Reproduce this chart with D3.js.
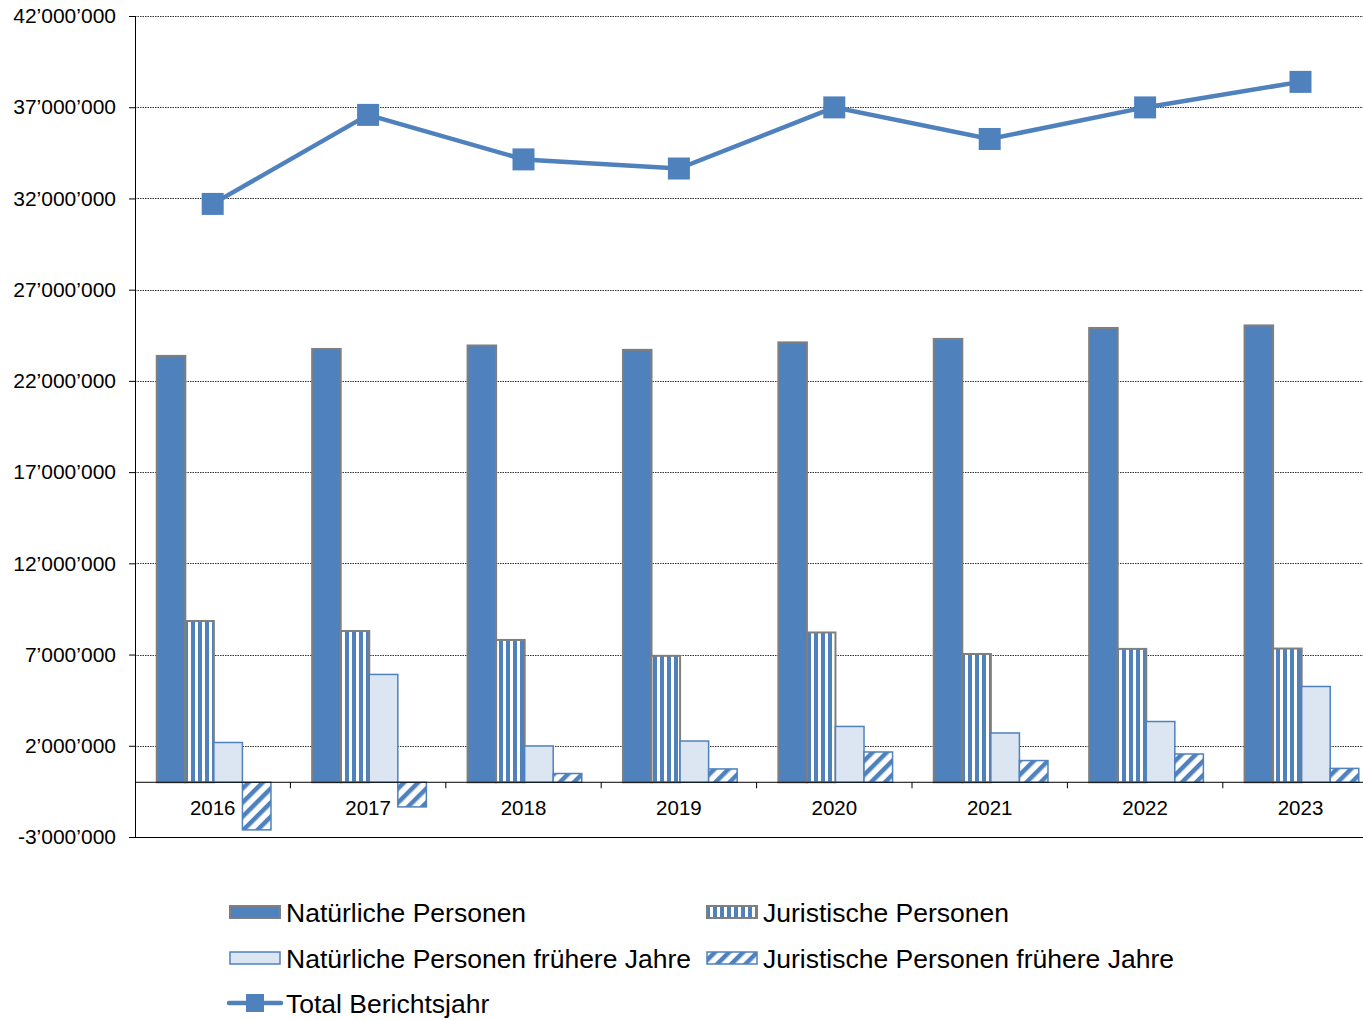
<!DOCTYPE html>
<html>
<head>
<meta charset="utf-8">
<script src="https://cdn.jsdelivr.net/npm/d3@7"></script>
<style>
  body { margin: 0; background: #fff; }
  text { font-family: "Liberation Sans", Arial, sans-serif; fill: #000; }
</style>
</head>
<body>
<div id="chart"></div>
<script>
// Data
const years = ["2016", "2017", "2018", "2019", "2020", "2021", "2022", "2023"];
const natuerliche = [23370000, 23750000, 23940000, 23700000, 24110000, 24300000, 24900000, 25040000];
const juristische = [8840000, 8290000, 7800000, 6930000, 8210000, 7030000, 7310000, 7330000];
const natFrueher = [2180000, 5910000, 1990000, 2260000, 3060000, 2700000, 3330000, 5250000];
const jurFrueher = [-2610000, -1350000, 480000, 730000, 1660000, 1190000, 1550000, 760000];
const total = [31700000, 36580000, 34140000, 33640000, 36990000, 35260000, 36990000, 38390000];
const yTicks = [-3000000, 2000000, 7000000, 12000000, 17000000, 22000000, 27000000, 32000000, 37000000, 42000000];

const series = [
    { key: "nat", name: "Natürliche Personen", values: natuerliche },
    { key: "jur", name: "Juristische Personen", values: juristische },
    { key: "natf", name: "Natürliche Personen frühere Jahre", values: natFrueher },
    { key: "jurf", name: "Juristische Personen frühere Jahre", values: jurFrueher }
];

const blue = "#4F81BD";
const width = 1363, height = 1020;
const margin = { top: 16, right: 0, bottom: 183, left: 135 };
const plotW = width - margin.left - margin.right;
const plotH = height - margin.top - margin.bottom;
// the original plot area runs past the right edge of the image
const bandW = 155.4;

const svg = d3.select("#chart").append("svg")
    .attr("width", width)
    .attr("height", height);

// Patterns
const defs = svg.append("defs");
const vp = defs.append("pattern")
    .attr("id", "vstripe")
    .attr("patternUnits", "userSpaceOnUse")
    .attr("width", 7).attr("height", 7);
vp.append("rect").attr("width", 7).attr("height", 7).attr("fill", "#fff");
vp.append("rect").attr("x", 0).attr("width", 4).attr("height", 7).attr("fill", blue);

const dp = defs.append("pattern")
    .attr("id", "dstripe")
    .attr("patternUnits", "userSpaceOnUse")
    .attr("width", 10).attr("height", 10)
    .attr("patternTransform", "rotate(45)");
dp.append("rect").attr("width", 10).attr("height", 10).attr("fill", "#fff");
dp.append("rect").attr("x", 0).attr("width", 4.5).attr("height", 10).attr("fill", blue);

const g = svg.append("g").attr("transform", `translate(${margin.left},${margin.top})`);

const y = d3.scaleLinear().domain([-3000000, 42000000]).range([plotH, 0]);
const x = d3.scaleBand().domain(years).range([0, bandW * years.length]).paddingInner(0).paddingOuter(0);
const xInner = d3.scaleBand().domain(series.map(s => s.key))
    .range([x.bandwidth() * 0.14, x.bandwidth() * 0.875]);

const fmt = v => d3.format(",")(v).replace(/,/g, "\u2019").replace("\u2212", "-");

// Gridlines
g.append("g").selectAll("line").data(yTicks).join("line")
    .attr("x1", 0).attr("x2", plotW)
    .attr("y1", d => Math.round(y(d)) + 0.5).attr("y2", d => Math.round(y(d)) + 0.5)
    .attr("stroke", d => d === -3000000 ? "#000" : "#333")
    .attr("stroke-width", 1)
    .attr("stroke-dasharray", d => d === -3000000 ? null : "1.5,1");

// Y axis
const yAxis = g.append("g")
    .call(d3.axisLeft(y).tickValues(yTicks).tickFormat(fmt).tickSize(6).tickPadding(13));
yAxis.select(".domain").attr("stroke", "#000");
yAxis.selectAll(".tick line").attr("stroke", "#000");
yAxis.selectAll("text").attr("font-size", 21);

// Bars
const styles = {
    nat: { fill: blue, stroke: "#7F7F7F", sw: 2 },
    jur: { fill: "url(#vstripe)", stroke: "#7F7F7F", sw: 2 },
    natf: { fill: "#DCE6F2", stroke: blue, sw: 1.5 },
    jurf: { fill: "url(#dstripe)", stroke: blue, sw: 1.5 }
};

series.forEach(s => {
    g.append("g").selectAll("rect").data(s.values).join("rect")
        .attr("x", (d, i) => x(years[i]) + xInner(s.key))
        .attr("width", xInner.bandwidth())
        .attr("y", d => y(Math.max(0, d)))
        .attr("height", d => Math.abs(y(d) - y(0)))
        .attr("fill", styles[s.key].fill)
        .attr("stroke", styles[s.key].stroke)
        .attr("stroke-width", styles[s.key].sw);
});

// X axis at zero
const xAxisG = g.append("g").attr("transform", `translate(0,${y(0)})`);
xAxisG.append("line").attr("x1", 0).attr("x2", plotW).attr("y1", 0).attr("y2", 0)
    .attr("stroke", "#000").attr("stroke-width", 1);
xAxisG.selectAll("line.tk").data(years.slice(1)).join("line")
    .attr("class", "tk")
    .attr("x1", d => x(d)).attr("x2", d => x(d))
    .attr("y1", 0).attr("y2", 6)
    .attr("stroke", "#000");
xAxisG.selectAll("text").data(years).join("text")
    .attr("x", d => x(d) + x.bandwidth() / 2)
    .attr("y", 33)
    .attr("text-anchor", "middle")
    .attr("font-size", 20.5)
    .text(d => d);

// Total line
const line = d3.line()
    .x((d, i) => x(years[i]) + x.bandwidth() / 2)
    .y(d => y(d));
g.append("path").datum(total)
    .attr("d", line)
    .attr("fill", "none")
    .attr("stroke", blue)
    .attr("stroke-width", 4.5);
g.append("g").selectAll("rect").data(total).join("rect")
    .attr("x", (d, i) => x(years[i]) + x.bandwidth() / 2 - 11)
    .attr("y", d => y(d) - 11)
    .attr("width", 22).attr("height", 22)
    .attr("fill", blue);

// Legend
const legendItems = [
    { key: "nat", name: series[0].name, x: 229, y: 912 },
    { key: "jur", name: series[1].name, x: 706, y: 912 },
    { key: "natf", name: series[2].name, x: 229, y: 958 },
    { key: "jurf", name: series[3].name, x: 706, y: 958 },
    { key: "total", name: "Total Berichtsjahr", x: 229, y: 1003 }
];
const legend = svg.append("g");
legendItems.forEach(it => {
    const lg = legend.append("g").attr("transform", `translate(${it.x},${it.y})`);
    if (it.key === "total") {
        lg.append("line").attr("x1", 0).attr("x2", 52).attr("y1", 0).attr("y2", 0)
            .attr("stroke", blue).attr("stroke-width", 4.5).attr("stroke-linecap", "round");
        lg.append("rect").attr("x", 17).attr("y", -9).attr("width", 18).attr("height", 18).attr("fill", blue);
    } else {
        const st = styles[it.key];
        lg.append("rect").attr("x", 1).attr("y", -6).attr("width", 50).attr("height", 12)
            .attr("fill", st.fill).attr("stroke", st.stroke).attr("stroke-width", st.sw);
    }
    lg.append("text").attr("x", 57).attr("y", 9.5)
        .attr("font-size", 26.5)
        .text(it.name);
});
</script>
</body>
</html>
